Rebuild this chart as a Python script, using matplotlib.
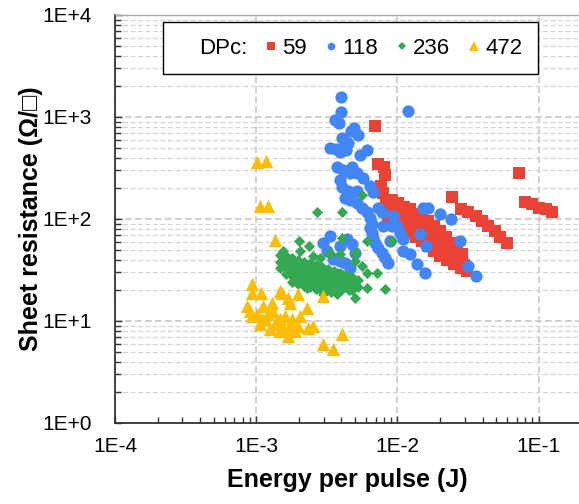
import numpy as np
import matplotlib
matplotlib.use('Agg')
import matplotlib.pyplot as plt
from matplotlib.ticker import LogLocator, FuncFormatter, NullFormatter
from matplotlib.lines import Line2D

plt.rcParams['font.family'] = ['Liberation Sans', 'DejaVu Sans']

# DPc = 59
energy_59 = [6.92e-3, 7.27e-3, 8.0e-3, 8.15e-3, 7.63e-3, 7.88e-3, 8.28e-3,
             9.13e-3, 1.01e-2, 1.11e-2, 1.22e-2, 1.35e-2, 1.49e-2, 1.64e-2, 1.81e-2,
             2.00e-2, 2.20e-2, 2.43e-2, 2.63e-2, 2.86e-2,
             8.15e-3, 9.13e-3, 1.01e-2, 1.11e-2, 1.22e-2, 1.35e-2, 1.49e-2, 1.64e-2,
             1.81e-2, 2.00e-2, 2.20e-2, 2.43e-2, 2.67e-2, 2.95e-2,
             8.55e-3, 9.59e-3, 1.07e-2, 1.20e-2, 1.35e-2, 1.49e-2, 1.64e-2, 1.81e-2,
             2.00e-2, 2.24e-2, 2.51e-2, 2.81e-2, 3.10e-2,
             2.43e-2, 2.81e-2, 3.15e-2, 3.59e-2, 3.96e-2, 4.36e-2, 4.89e-2, 5.31e-2,
             5.94e-2, 7.23e-2, 7.97e-2, 8.93e-2, 1.00e-1, 1.12e-1, 1.24e-1]
rs_59 = [810, 350, 320, 267, 213, 178, 152,
         152, 142, 132, 124, 113, 106, 96.4, 86.1,
         76.9, 67.1, 58.6, 52.4, 45.7,
         129, 116, 111, 103, 96.4, 88.1, 80.4, 73.5,
         65.7, 58.6, 51.2, 44.7, 39.9, 35.6,
         96.4, 86.1, 80.4, 73.5, 67.1, 61.3, 54.8, 48.9,
         43.7, 39.9, 36.4, 33.3, 31.1,
         166, 124, 116, 108, 96.4, 86.1, 76.9, 67.1,
         58.6, 280, 148, 139, 129, 124, 116]

# DPc = 118
energy_118 = [3.98e-3, 3.98e-3, 1.19e-2, 3.61e-3, 3.85e-3, 4.91e-3, 4.68e-3, 5.25e-3,
              4.04e-3, 4.24e-3, 4.46e-3, 3.32e-3, 3.66e-3, 3.91e-3, 4.31e-3, 6.07e-3,
              5.42e-3, 3.72e-3, 4.11e-3, 4.75e-3, 4.60e-3, 5.16e-3, 5.69e-3, 3.91e-3,
              4.04e-3, 4.46e-3, 5.16e-3, 6.38e-3, 6.70e-3, 4.24e-3, 4.60e-3, 5.16e-3,
              5.60e-3, 6.07e-3, 7.27e-3, 7.76e-3, 6.38e-3, 6.59e-3, 6.38e-3, 6.59e-3,
              6.70e-3, 6.92e-3, 7.27e-3, 7.76e-3, 8.15e-3, 8.55e-3, 7.88e-3, 8.84e-3,
              9.90e-3, 1.04e-2, 1.09e-2, 1.09e-2, 1.22e-2, 1.44e-2, 1.60e-2, 1.37e-2,
              1.56e-2, 1.51e-2, 1.64e-2, 2.00e-2, 2.39e-2, 2.76e-2, 3.15e-2, 3.59e-2,
              3.32e-3, 4.38e-3, 4.75e-3, 5.00e-3, 2.97e-3, 3.16e-3, 3.49e-3, 3.91e-3,
              4.24e-3, 4.60e-3, 3.91e-3, 9.13e-3, 9.28e-3]
rs_118 = [1560, 1120, 1140, 928, 867, 774, 723, 660,
          617, 564, 551, 492, 481, 450, 471, 471,
          420, 320, 299, 327, 280, 280, 255, 239,
          204, 190, 190, 213, 182, 162, 152, 142,
          127, 116, 127, 116, 103, 90.1, 82.3, 73.5,
          65.7, 58.6, 52.4, 46.7, 41.7, 37.3, 86.1, 61.3,
          86.1, 73.5, 64.2, 48.9, 45.7, 71.9, 54.8, 36.4,
          29.7, 127, 129, 113, 101, 61.3, 34.8, 27.8,
          68.7, 64.2, 57.3, 46.7, 58.6, 48.9, 40.8, 39.0,
          37.3, 33.3, 54.8, 86.1, 108]

# DPc = 236
energy_236 = [1.47e-3, 1.47e-3, 1.47e-3, 1.55e-3, 1.55e-3,
              1.62e-3, 1.62e-3, 1.62e-3, 1.62e-3, 1.70e-3, 1.70e-3,
              1.79e-3, 1.79e-3, 1.79e-3, 1.79e-3, 1.79e-3,
              1.88e-3, 1.88e-3, 1.88e-3,
              1.97e-3, 1.97e-3, 1.97e-3, 1.97e-3, 1.97e-3,
              2.07e-3, 2.07e-3, 2.07e-3,
              2.18e-3, 2.18e-3, 2.18e-3, 2.18e-3, 2.18e-3,
              2.29e-3, 2.29e-3, 2.29e-3,
              2.40e-3, 2.40e-3, 2.40e-3, 2.40e-3, 2.40e-3,
              2.52e-3, 2.52e-3, 2.52e-3,
              2.65e-3, 2.65e-3, 2.65e-3, 2.65e-3, 2.65e-3,
              2.78e-3, 2.78e-3, 2.78e-3,
              2.92e-3, 2.92e-3, 2.92e-3, 2.92e-3, 2.92e-3,
              3.07e-3, 3.07e-3, 3.07e-3,
              3.22e-3, 3.22e-3, 3.22e-3, 3.22e-3,
              3.38e-3, 3.38e-3, 3.38e-3,
              3.55e-3, 3.55e-3, 3.55e-3, 3.55e-3,
              3.72e-3, 3.72e-3, 3.72e-3,
              3.91e-3, 3.91e-3, 3.91e-3, 3.91e-3,
              4.11e-3, 4.11e-3, 4.31e-3, 4.31e-3, 4.31e-3,
              4.53e-3, 4.53e-3, 4.75e-3, 4.75e-3, 4.75e-3, 5.25e-3, 5.25e-3,
              2.69e-3, 4.04e-3, 5.60e-3, 6.07e-3, 9.13e-3, 4.04e-3, 5.00e-3, 3.32e-3,
              6.07e-3, 7.15e-3, 8.15e-3, 5.00e-3, 6.07e-3, 2.00e-3, 2.36e-3, 1.55e-3,
              2.04e-3, 2.52e-3, 2.82e-3, 2.97e-3, 3.32e-3, 3.91e-3, 5.00e-3, 5.60e-3]
rs_236 = [44.7, 38.1, 33.3, 41.7, 35.6,
          43.7, 38.5, 33.3, 29.0, 40.8, 31.8,
          41.7, 36.4, 31.8, 27.8, 24.2,
          38.1, 29.7, 25.9,
          39.9, 34.8, 30.4, 26.5, 23.2,
          36.4, 28.4, 24.8,
          38.1, 33.3, 29.0, 25.3, 22.1,
          35.6, 27.1, 21.2,
          37.3, 32.5, 28.4, 24.8, 21.6,
          34.0, 26.5, 22.6,
          35.6, 31.1, 27.1, 23.7, 20.7,
          33.3, 25.3, 21.2,
          34.0, 29.7, 26.0, 22.6, 19.8,
          31.8, 24.2, 20.2,
          32.5, 28.4, 24.8, 21.6,
          30.4, 23.2, 19.3,
          31.1, 27.1, 23.7, 20.7,
          29.7, 22.1, 18.5,
          29.7, 25.9, 22.6, 19.8,
          28.4, 21.2, 28.4, 24.8, 21.6,
          27.1, 20.2, 27.1, 23.7, 20.0, 25.3, 21.6,
          116, 116, 170, 61.3, 61.3, 65.7, 46.7, 46.7,
          29.7, 29.7, 20.7, 16.9, 21.2, 61.3, 54.8, 48.9,
          48.9, 43.7, 41.7, 18.5, 45.7, 45.7, 39.0, 34.8]

# DPc = 472
energy_472 = [1.01e-3, 1.17e-3, 1.06e-3, 1.21e-3, 1.36e-3, 9.3e-4, 9.3e-4, 1.08e-3,
              8.6e-4, 1.11e-3, 1.29e-3, 1.52e-3, 1.68e-3, 1.73e-3, 1.97e-3, 2.28e-3,
              2.97e-3, 1.47e-3, 1.31e-3, 9.3e-4, 1.79e-3, 1.97e-3, 2.52e-3, 2.32e-3,
              1.68e-3, 4.04e-3, 2.97e-3, 3.49e-3, 1.15e-3, 1.40e-3, 1.55e-3, 1.06e-3,
              1.25e-3, 9.0e-4, 1.01e-3, 1.09e-3, 1.21e-3, 1.36e-3, 1.47e-3, 1.60e-3,
              1.73e-3, 1.47e-3, 1.88e-3, 2.04e-3]
rs_472 = [360, 370, 135, 135, 62.7, 23.2, 18.9, 18.9,
          14.1, 14.1, 15.1, 18.9, 16.9, 15.1, 18.5, 13.5,
          17.7, 19.8, 12.6, 11.2, 10.5, 8.95, 8.95, 8.55,
          7.14, 7.47, 5.96, 5.32, 10.5, 10.0, 8.55, 9.36,
          8.36, 12.6, 11.7, 10.5, 11.7, 9.36, 10.5, 11.2,
          8.95, 7.99, 7.99, 11.2]

series = [
    ('59', energy_59, rs_59, 's', '#EA4335', 78),
    ('118', energy_118, rs_118, 'o', '#4285F4', 78),
    ('236', energy_236, rs_236, 'D', '#34A853', 32),
    ('472', energy_472, rs_472, '^', '#FBBC04', 92),
]

fig = plt.figure(figsize=(5.79, 5.04), dpi=100)
# plot area runs past the right edge of the figure (x axis ends at 1E+0)
ax = fig.add_axes([115 / 579, 81 / 504, 565 / 579, 408 / 504])

for label, xs, ys, marker, color, size in series:
    ax.scatter(xs, ys, marker=marker, s=size, color=color, linewidths=0, zorder=3)

ax.set_xscale('log')
ax.set_yscale('log')
ax.set_xlim(1e-4, 1e0)
ax.set_ylim(1e0, 1e4)


def sci_label(v, pos):
    return '1E{:+d}'.format(int(round(np.log10(v))))


# 1E+0 on the x axis sits outside the visible area
ax.xaxis.set_major_formatter(FuncFormatter(lambda v, pos: sci_label(v, pos) if v < 0.5 else ''))
ax.yaxis.set_major_formatter(FuncFormatter(sci_label))
ax.xaxis.set_minor_locator(LogLocator(base=10, subs=np.arange(2, 10), numticks=20))
ax.yaxis.set_minor_locator(LogLocator(base=10, subs=np.arange(2, 10), numticks=20))
ax.xaxis.set_minor_formatter(NullFormatter())
ax.yaxis.set_minor_formatter(NullFormatter())

ax.tick_params(which='both', direction='in', colors='#333333', labelcolor='black',
               labelsize=15, top=False, right=False)
ax.tick_params(which='major', length=5, width=1)
ax.tick_params(which='minor', length=4, width=1)
ax.tick_params(axis='x', which='major', pad=10)
ax.tick_params(axis='y', which='major', pad=17)

# dashed grid: major on both axes, minor on y only
ax.grid(True, which='major', axis='both', color='#c8c8c8', linestyle=(0, (4, 2)), linewidth=1.2)
ax.grid(True, which='minor', axis='y', color='#d4d4d4', linestyle=(0, (4, 2)), linewidth=0.9)
ax.set_axisbelow(True)

for side in ['left', 'bottom']:
    ax.spines[side].set_color('#333333')
    ax.spines[side].set_linewidth(1.3)
ax.spines['top'].set_color('#a6a6a6')
ax.spines['top'].set_linewidth(1.0)

ax.set_xlabel('Energy per pulse (J)', fontsize=18, fontweight='bold')
ax.xaxis.set_label_coords((347 - 115) / 565, -0.11)
ax.set_ylabel('Sheet resistance (\u03a9/\u25a1)', fontsize=18, fontweight='bold')
ax.yaxis.set_label_coords(-0.128, 0.5)

# legend with a leading text-only entry
handles = [Line2D([], [], linestyle='none', marker=None)]
labels = ['DPc:']
for label, xs, ys, marker, color, size in series:
    handles.append(Line2D([], [], linestyle='none', marker=marker, color=color,
                          markersize={'s': 6, 'o': 5.5, 'D': 4.5, '^': 7}[marker],
                          markeredgewidth=0))
    labels.append(label)
leg = ax.legend(handles, labels, ncol=5, loc='upper right',
                bbox_to_anchor=((538 - 115) / 565, 1 - 7 / 408),
                fontsize=16, frameon=True, fancybox=False, framealpha=1,
                edgecolor='black', handlelength=0.8, handletextpad=0.1,
                columnspacing=0.68, borderpad=0.7, borderaxespad=0)
leg.get_frame().set_linewidth(1.0)

fig.savefig('out.png', dpi=100)
